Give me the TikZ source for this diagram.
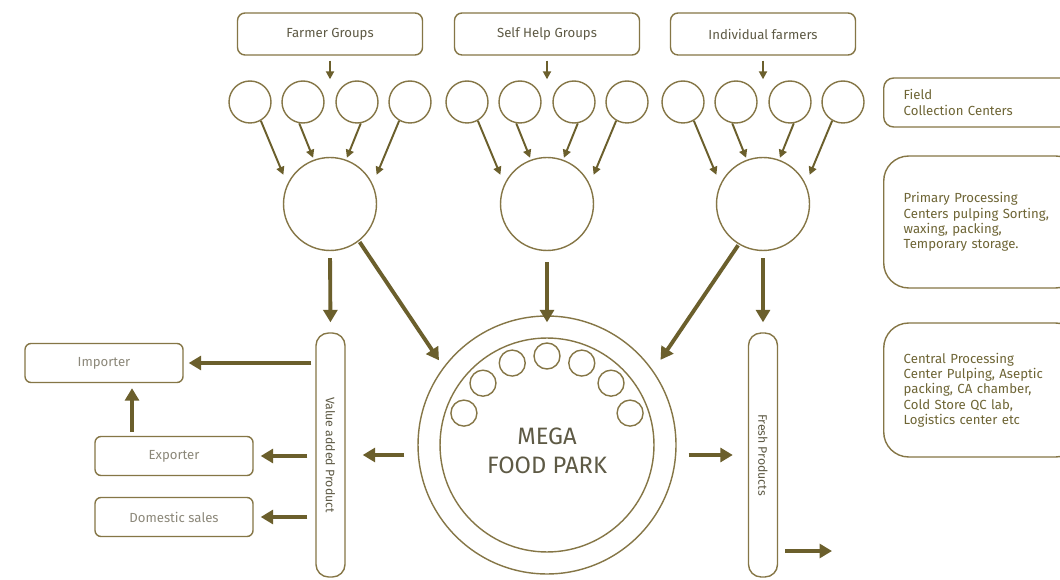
\documentclass[tikz,border=0pt]{standalone}
\usepackage{fontspec}
\setmainfont{Fira Sans}
\usetikzlibrary{arrows.meta,calc}
\definecolor{parkline}{HTML}{857646}
\definecolor{parkarrow}{HTML}{6B5F2C}
\definecolor{parktext}{HTML}{5E5A45}
\definecolor{parklight}{HTML}{8C887A}
\definecolor{parkolive}{HTML}{6E6535}
\tikzset{
  srcbox/.style={draw=parkline, line width=0.8pt, rounded corners=0.15cm, minimum width=3.7cm, minimum height=0.84cm, text=parktext, font=\fontsize{7.5}{9}\selectfont},
  outbox/.style={draw=parkline, line width=0.8pt, rounded corners=0.12cm, minimum width=3.16cm, minimum height=0.78cm, text=parklight, font=\fontsize{7.5}{9}\selectfont},
  infobox/.style={draw=parkline, line width=0.8pt, anchor=west, align=left, text width=3.14cm, inner xsep=0.4cm, text=parkolive, font=\fontsize{7.5}{8.7}\selectfont},
  bar/.style={draw=parkline, line width=0.8pt, rounded corners=0.25cm, rotate=-90, minimum width=4.88cm, minimum height=0.58cm, text=parktext, font=\fontsize{7}{8}\selectfont},
  fieldring/.style={draw=parkline, line width=0.8pt, circle, minimum size=0.84cm, inner sep=0pt},
  midring/.style={draw=parkline, line width=0.8pt, circle, minimum size=1.86cm, inner sep=0pt},
  unitring/.style={draw=parkline, line width=0.8pt, circle, minimum size=0.52cm, inner sep=0pt},
  feed/.style={draw=parkarrow, line width=1.1pt, -{Triangle[length=0.16cm,width=0.16cm]}},
  flow/.style={draw=parkarrow, line width=2.2pt, -{Triangle[length=0.25cm,width=0.28cm]}}
}
\begin{document}
\begin{tikzpicture}[x=0.02cm,y=-0.02cm]
  \clip (0,0) rectangle (1060,580);
  \fill[white] (0,0) rectangle (1060,580);
  % sources
  \node[srcbox] (fg) at (330,34) {Farmer Groups};
  \node[srcbox] (shg) at (547,34) {Self Help Groups};
  \node[srcbox] (ind) at (763,34) {Individual farmers};
  % field collection and primary processing
  \foreach \g/\cx in {1/330,2/547,3/763}{
    \node[midring] (m\g) at (\cx,204) {};
    \foreach \i/\dx in {1/-80,2/-27,3/27,4/80}
      \node[fieldring] (s\g\i) at ({\cx+(\dx)},102) {};
    \draw[feed, shorten >=0.2cm] (s\g1.-60) -- (m\g.155);
    \draw[feed, shorten >=0.04cm] (s\g2.-100) -- (m\g.110);
    \draw[feed, shorten >=0.04cm] (s\g3.-80) -- (m\g.70);
    \draw[feed, shorten >=0.2cm] (s\g4.-120) -- (m\g.25);
  }
  \draw[feed, shorten <=0.1cm, shorten >=0.02cm] (fg.south) -- (fg.south |- s12.north);
  \draw[feed, shorten <=0.1cm, shorten >=0.02cm] (shg.south) -- (shg.south |- s22.north);
  \draw[feed, shorten <=0.1cm, shorten >=0.02cm] (ind.south) -- (ind.south |- s32.north);
  % mega food park
  \node[draw=parkline, line width=0.8pt, circle, minimum size=5.16cm] (mega) at (547,445) {};
  \node[draw=parkline, line width=0.8pt, circle, minimum size=4.28cm] (core) at (mega) {};
  \foreach \a [count=\k] in {-21,-44,-67,-90,-113,-136,-159}
    \node[unitring] (u\k) at ($(mega)+(\a:89)$) {};
  \node[align=center, text=parktext, font=\fontsize{13.5}{16.5}\selectfont] (megatext) at (547,451) {MEGA\\FOOD PARK};
  % product lines (bars are turned, so west is their top)
  \node[bar] (value) at (330.5,455) {Value added Product};
  \node[bar] (fresh) at (763,455) {Fresh Products};
  \node[outbox] (importer) at (104,363) {Importer};
  \node[outbox] (exporter) at (174,456) {Exporter};
  \node[outbox] (domestic) at (174,517) {Domestic sales};
  \coordinate (market) at (832,551);
  \draw[flow, shorten <=0.14cm, shorten >=0.2cm] (m1.south) -- (value.west);
  \draw[flow, shorten <=0.22cm, shorten >=-0.14cm] (m2.south) -- (mega.north);
  \draw[flow, shorten <=0.14cm, shorten >=0.2cm] (m3.south) -- (fresh.west);
  \draw[flow, shorten <=0.02cm, shorten >=0.16cm] (m1.-52) -- (mega.143);
  \draw[flow, shorten <=0.02cm, shorten >=0.26cm] (m3.-121) -- (mega.35);
  \draw[flow, shorten <=0.26cm, shorten >=0.34cm] ([yshift=-0.2cm]mega.west) -- ([yshift=-0.2cm]mega.west -| value.north);
  \draw[flow, shorten <=0.24cm, shorten >=0.3cm] ([yshift=-0.2cm]mega.east) -- ([yshift=-0.2cm]mega.east -| fresh.south);
  \draw[flow, shorten <=0.14cm] (fresh.north |- market) -- (market);
  \draw[flow, shorten <=0.08cm, shorten >=0.1cm] (value.south |- importer.east) -- (importer.east);
  \draw[flow, shorten <=0.16cm, shorten >=0.14cm] (value.south |- exporter.east) -- (exporter.east);
  \draw[flow, shorten <=0.16cm, shorten >=0.14cm] (value.south |- domestic.east) -- (domestic.east);
  \draw[flow, shorten <=0.08cm, shorten >=0.1cm] ([xshift=-0.84cm]exporter.north) -- ([xshift=-0.84cm]exporter.north |- importer.south);
  % legend
  \node[infobox, rounded corners=0.2cm, minimum height=0.98cm] (field) at (883,102.5) {Field\\Collection Centers};
  \node[infobox, rounded corners=0.5cm, minimum height=2.64cm] (primary) at (883,222) {Primary Processing\\Centers pulping Sorting,\\waxing, packing,\\Temporary storage.};
  \node[infobox, rounded corners=0.5cm, minimum height=2.68cm] (central) at (883,390) {Central Processing\\Center Pulping, Aseptic\\packing, CA chamber,\\Cold Store QC lab,\\Logistics center etc};
\end{tikzpicture}
\end{document}
